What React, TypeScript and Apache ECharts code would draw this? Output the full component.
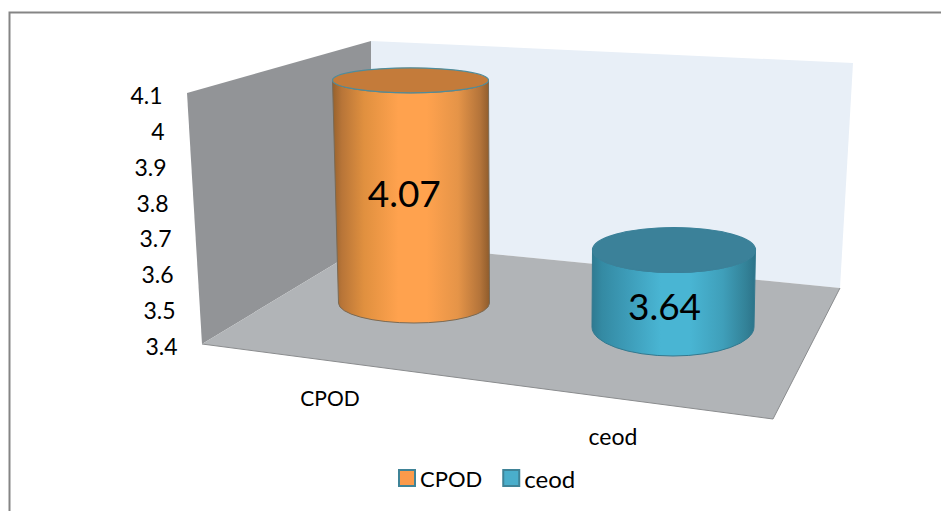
import React, { useEffect, useRef } from "react";
import * as echarts from "echarts";

const categories = ["CPOD", "ceod"];
const cpodValues = [4.07];
const ceodValues = [3.64];
const axisMin = 3.4;
const axisMax = 4.1;
const axisStep = 0.1;

const FONT = "Lato";

// Where each cylinder stands on the tilted floor, relative to its axis position.
const cylinderLayouts = [
  { dx: 84, dy: -43, depth: 0.927, topRx: 78, topRy: 12.5, baseRx: 75.5, baseRy: 20, skew: 3.5, labelDx: -8, labelDy: 1 },
  { dx: 60, dy: -19, depth: 0.895, topRx: 81.5, topRy: 22.5, baseRx: 81, baseRy: 29, skew: -1, labelDx: -9, labelDy: 17 },
];

const orangeStyle = {
  side: [
    [0, "#96612d"], [0.06, "#b87538"], [0.2, "#e0903f"], [0.42, "#ffa24e"], [0.6, "#ffa24e"], [0.8, "#e59448"], [0.94, "#b4743a"], [1, "#8f5c2c"],
  ],
  top: "#c47b3a",
  edge: "#4f8c9b",
  baseEdge: "#7a6a55",
};
const tealStyle = {
  side: [
    [0, "#2f7a91"], [0.06, "#348aa3"], [0.2, "#3c9ab6"], [0.42, "#49b5d3"], [0.6, "#49b5d3"], [0.8, "#3f9fba"], [0.94, "#338298"], [1, "#2c7389"],
  ],
  top: "#3b8199",
  edge: "#3b8199",
  baseEdge: "#33798f",
};

function cylinder(style: typeof orangeStyle) {
  return (params: any, api: any) => {
    const categoryIndex = api.value(0);
    const value = api.value(1);
    const layout = cylinderLayouts[categoryIndex];
    const origin = api.coord([categoryIndex, axisMin]);
    const height = api.size([0, value - axisMin])[1] * layout.depth;
    const baseX = origin[0] + layout.dx;
    const baseY = origin[1] + layout.dy;
    const topX = baseX - layout.skew;
    const topY = baseY - height;
    const { topRx, topRy, baseRx, baseRy } = layout;
    const sidePath =
      `M ${topX - topRx} ${topY} L ${baseX - baseRx} ${baseY} ` +
      `A ${baseRx} ${baseRy} 0 0 0 ${baseX + baseRx} ${baseY} ` +
      `L ${topX + topRx} ${topY} ` +
      `A ${topRx} ${topRy} 0 0 1 ${topX - topRx} ${topY} Z`;
    return {
      type: "group",
      children: [
        {
          type: "path",
          shape: { pathData: sidePath },
          style: {
            fill: new echarts.graphic.LinearGradient(
              0, 0, 1, 0,
              style.side.map(([offset, color]) => ({ offset: offset as number, color: color as string }))
            ),
            stroke: style.baseEdge,
            lineWidth: 1,
          },
        },
        {
          type: "ellipse",
          shape: { cx: topX, cy: topY, rx: topRx, ry: topRy },
          style: { fill: style.top, stroke: style.edge, lineWidth: 1.2 },
        },
        {
          type: "text",
          style: {
            text: value.toFixed(2),
            x: (topX + baseX) / 2 + layout.labelDx,
            y: (topY + baseY) / 2 + layout.labelDy,
            align: "center",
            verticalAlign: "middle",
            fill: "#000000",
            font: `37px ${FONT}`,
          },
        },
      ],
    };
  };
}

// Right inset of a tick label, so the scale follows the leaning side wall.
const tickRichKey = (v: number) => `t${Math.round((v - axisMin) * 10)}`;
const tickRich: Record<string, any> = {};
for (let i = 0; i <= 7; i++) {
  tickRich[`t${i}`] = {
    fontFamily: FONT,
    fontSize: 23,
    color: "#000000",
    padding: [0, Math.round(i * 2.15), 0, 0],
  };
}

export default function App() {
  const ref = useRef<HTMLDivElement>(null);
  useEffect(() => {
    const chart = echarts.init(ref.current!, null, { renderer: "svg" });
    chart.setOption({
      animation: false,
      backgroundColor: "#ffffff",
      grid: { left: 188.5, top: 95, width: 566, height: 251, containLabel: false },
      xAxis: {
        type: "category",
        data: categories,
        axisLine: { show: false },
        axisTick: { show: false },
        axisLabel: {
          margin: 41,
          interval: 0,
          formatter: (name: string) => `{${name === "ceod" ? "low" : "high"}|${name}}`,
          rich: {
            high: { fontFamily: FONT, fontSize: 21, color: "#000000", padding: [0, 0, 0, 0] },
            low: { fontFamily: FONT, fontSize: 23, color: "#000000", padding: [37, 0, 0, 0] },
          },
        },
      },
      yAxis: {
        type: "value",
        min: axisMin,
        max: axisMax,
        interval: axisStep,
        axisLine: { show: false },
        axisTick: { show: false },
        splitLine: { show: false },
        axisLabel: {
          margin: 11,
          formatter: (v: number) => `{${tickRichKey(v)}|${Number(v.toFixed(1))}}`,
          rich: tickRich,
        },
      },
      legend: {
        left: 398,
        top: 466,
        padding: 0,
        itemWidth: 16,
        itemHeight: 16,
        itemGap: 20,
        icon: "rect",
        data: [
          { name: "CPOD", itemStyle: { color: "#fb9a4b", borderColor: "#3f8397", borderWidth: 2 } },
          {
            name: "ceod",
            itemStyle: { color: "#4aaecb", borderColor: "#3f8397", borderWidth: 2 },
            textStyle: { fontFamily: FONT, fontSize: 24, color: "#000000" },
          },
        ],
        textStyle: { fontFamily: FONT, fontSize: 22, color: "#000000" },
      },
      graphic: [
        {
          type: "polyline",
          shape: { points: [[9.5, 511], [9.5, 12.5], [941, 12.5]] },
          style: { stroke: "#858585", lineWidth: 2, fill: "none" },
        },
        {
          type: "polygon",
          shape: { points: [[371, 41], [853, 63], [840, 288], [371, 242]] },
          style: { fill: "#e8eff7" },
        },
        {
          type: "polygon",
          shape: { points: [[187, 93], [371, 41], [371, 242], [202, 344]] },
          style: { fill: "#929497" },
        },
        {
          type: "polygon",
          shape: { points: [[202, 344], [371, 242], [840, 288], [773, 419]] },
          style: { fill: "#b1b4b7" },
        },
        {
          type: "polyline",
          shape: { points: [[202, 344], [773, 419], [840, 288]] },
          style: { stroke: "#8a8c8e", lineWidth: 1, fill: "none" },
        },
      ],
      series: [
        {
          name: "CPOD",
          type: "custom",
          renderItem: cylinder(orangeStyle),
          data: cpodValues.map((v) => [0, v]),
          encode: { x: 0, y: 1 },
        },
        {
          name: "ceod",
          type: "custom",
          renderItem: cylinder(tealStyle),
          data: ceodValues.map((v) => [1, v]),
          encode: { x: 0, y: 1 },
        },
      ],
    });
    return () => chart.dispose();
  }, []);
  return (
    <div
      ref={ref}
      style={{ position: "absolute", left: 0, top: 0, width: 941, height: 511 }}
    />
  );
}
